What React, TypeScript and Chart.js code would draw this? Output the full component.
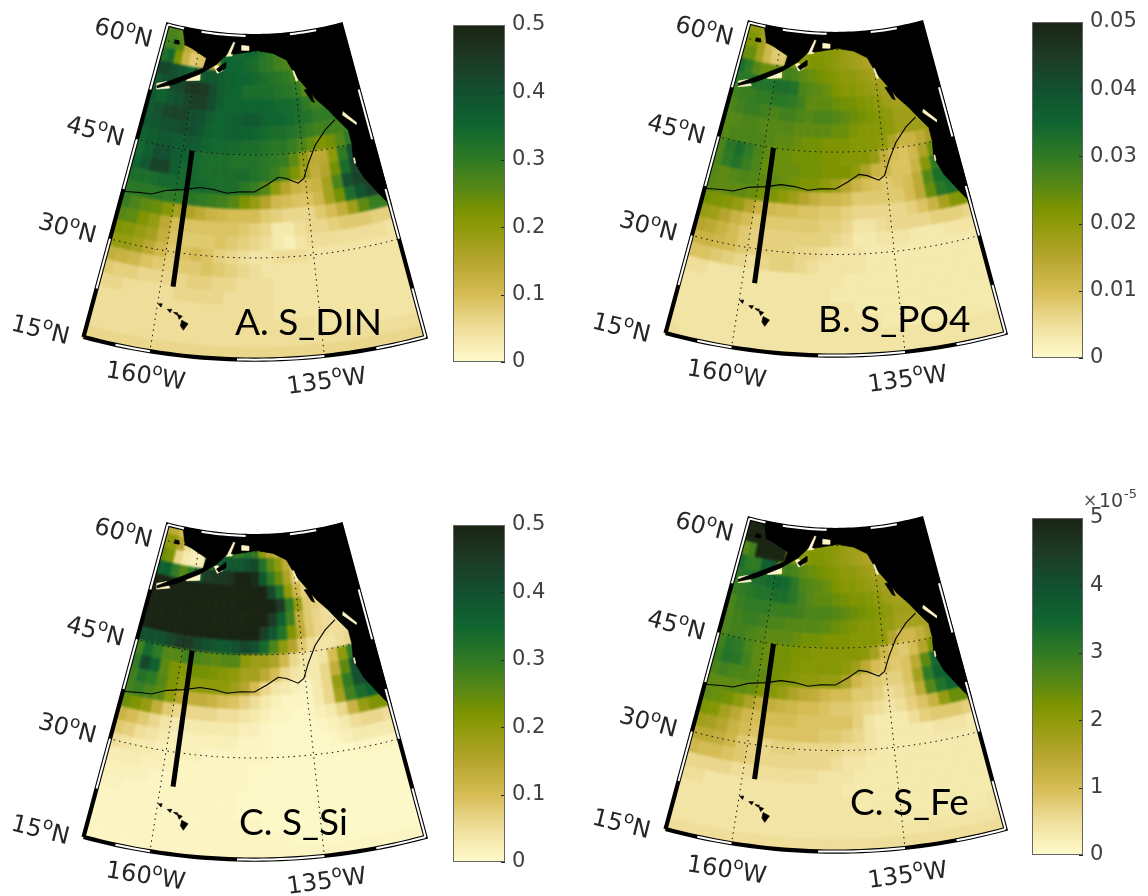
import React, { useEffect, useRef } from "react";
import { Chart, registerables } from "chart.js";

Chart.register(...registerables);

// Grid: cell centres in degrees. Rows run south to north.
const LATS = [16, 18, 20, 22, 24, 26, 28, 30, 32, 34, 36, 38, 40, 42, 44, 46, 48, 50, 52, 54, 56, 58, 60, 62];
const LONS = [-169, -167, -165, -163, -161, -159, -157, -155, -153, -151, -149, -147, -145, -143, -141, -139, -137, -135, -133, -131, -129, -127, -125, -123, -121];

// Values in units of 1/50 of each colour bar's range
const S_DIN = [
  [6, 6, 6, 6, 6, 6, 6, 6, 6, 6, 6, 6, 6, 6, 6, 6, 6, 6, 6, 6, 6, 6, 6, 6, 6],
  [5, 5, 5, 5, 5, 5, 5, 5, 5, 5, 5, 5, 5, 5, 5, 5, 5, 5, 5, 5, 5, 5, 5, 5, 5],
  [5, 5, 5, 5, 5, 5, 5, 5, 5, 5, 5, 5, 5, 5, 5, 5, 5, 4, 4, 4, 4, 4, 4, 4, 4],
  [5, 5, 5, 5, 5, 5, 5, 5, 5, 5, 5, 5, 5, 5, 4, 4, 4, 4, 4, 4, 4, 4, 4, 4, 4],
  [6, 6, 5, 5, 5, 5, 6, 6, 6, 6, 5, 5, 5, 5, 4, 4, 4, 4, 4, 4, 4, 4, 4, 4, 4],
  [8, 7, 7, 6, 6, 6, 6, 7, 7, 6, 6, 5, 5, 5, 4, 4, 4, 4, 4, 4, 4, 4, 4, 4, 4],
  [13, 12, 11, 9, 8, 7, 8, 8, 9, 8, 7, 6, 5, 4, 4, 4, 4, 4, 4, 4, 4, 4, 4, 4, 4],
  [19, 19, 17, 14, 11, 8, 9, 10, 9, 7, 6, 5, 4, 4, 5, 5, 5, 4, 4, 4, 4, 4, 4, 4, 4],
  [22, 21, 19, 17, 13, 9, 8, 8, 8, 9, 8, 7, 6, 5, 3, 2, 4, 5, 5, 5, 5, 5, 5, 5, 4],
  [26, 25, 22, 19, 14, 10, 9, 9, 9, 9, 9, 8, 7, 6, 3, 3, 5, 6, 6, 7, 8, 8, 8, 7, 7],
  [29, 27, 25, 24, 21, 17, 16, 14, 12, 11, 10, 10, 10, 8, 7, 6, 6, 6, 8, 10, 13, 18, 25, 29, 29],
  [31, 31, 31, 31, 30, 30, 31, 30, 29, 28, 26, 22, 19, 15, 11, 10, 9, 9, 11, 17, 23, 33, 39, 43, 43],
  [33, 33, 33, 34, 34, 34, 34, 34, 33, 33, 33, 31, 29, 26, 20, 15, 12, 11, 12, 17, 27, 40, 43, 45, 45],
  [35, 38, 43, 43, 37, 34, 34, 33, 33, 33, 33, 33, 32, 31, 29, 26, 22, 17, 13, 15, 23, 33, 42, 45, 45],
  [34, 37, 40, 40, 37, 36, 34, 33, 33, 33, 32, 32, 32, 31, 30, 29, 25, 19, 14, 14, 20, 30, 40, 45, 45],
  [36, 37, 38, 38, 37, 38, 37, 35, 34, 34, 34, 33, 33, 32, 31, 31, 29, 27, 24, 22, 23, 26, 30, 30, 30],
  [38, 39, 40, 40, 41, 41, 39, 36, 35, 36, 36, 36, 35, 34, 33, 33, 32, 31, 29, 28, 28, 28, 28, 28, 28],
  [38, 40, 42, 43, 43, 41, 40, 37, 35, 36, 37, 38, 38, 36, 35, 35, 34, 33, 32, 30, 30, 30, 30, 30, 30],
  [38, 36, 38, 40, 42, 44, 44, 41, 37, 35, 35, 35, 35, 35, 35, 34, 34, 33, 30, 28, 28, 28, 28, 28, 28],
  [38, 40, 42, 42, 45, 46, 45, 41, 37, 36, 35, 33, 33, 33, 33, 32, 31, 30, 26, 24, 25, 25, 25, 25, 25],
  [42, 42, 40, 38, 35, 36, 38, 38, 37, 36, 35, 35, 34, 33, 32, 31, 30, 28, 26, 25, 25, 25, 25, 25, 25],
  [32, 34, 22, 12, 8, 9, 12, 14, 35, 35, 35, 34, 33, 31, 30, 28, 27, 24, 24, 24, 24, 24, 24, 24, 24],
  [28, 28, 26, 14, 11, 11, 14, 14, 34, 34, 34, 35, 34, 32, 30, 28, 28, 28, 28, 28, 28, 28, 28, 28, 28],
  [27, 27, 25, 25, 25, 25, 25, 25, 25, 25, 25, 25, 25, 25, 25, 25, 25, 25, 25, 25, 25, 25, 25, 25, 25],
];

const S_PO4 = [
  [5, 4, 4, 4, 4, 4, 4, 4, 4, 4, 4, 4, 4, 4, 4, 4, 4, 4, 4, 4, 4, 4, 4, 4, 4],
  [4, 4, 4, 4, 4, 4, 4, 4, 4, 4, 4, 4, 4, 4, 4, 4, 4, 4, 4, 4, 4, 4, 4, 4, 4],
  [4, 4, 4, 4, 4, 4, 4, 4, 4, 4, 4, 4, 4, 4, 4, 4, 3, 3, 3, 3, 3, 3, 3, 3, 3],
  [4, 4, 4, 4, 4, 4, 4, 4, 4, 4, 4, 4, 4, 4, 3, 3, 3, 3, 3, 3, 3, 3, 3, 3, 3],
  [4, 4, 4, 4, 4, 4, 4, 4, 4, 4, 4, 4, 3, 3, 3, 3, 3, 3, 3, 3, 3, 3, 3, 3, 3],
  [5, 5, 4, 4, 4, 4, 4, 4, 4, 4, 4, 4, 4, 3, 3, 3, 3, 3, 3, 3, 3, 3, 3, 3, 3],
  [9, 9, 8, 7, 6, 5, 6, 7, 7, 6, 5, 4, 4, 4, 4, 3, 3, 3, 3, 3, 3, 3, 3, 3, 3],
  [12, 12, 11, 10, 8, 7, 7, 7, 7, 6, 6, 5, 4, 4, 4, 3, 3, 3, 3, 3, 3, 3, 3, 3, 3],
  [15, 14, 12, 10, 8, 7, 7, 7, 7, 7, 7, 7, 6, 5, 3, 3, 4, 4, 4, 3, 3, 3, 4, 4, 4],
  [19, 18, 15, 12, 10, 8, 8, 8, 8, 8, 8, 7, 7, 6, 4, 4, 5, 6, 6, 6, 6, 7, 7, 7, 6],
  [23, 22, 21, 19, 15, 12, 11, 10, 10, 9, 9, 8, 8, 7, 6, 6, 6, 6, 6, 7, 9, 12, 17, 21, 22],
  [26, 25, 25, 25, 24, 23, 22, 20, 18, 15, 13, 11, 11, 10, 8, 8, 8, 8, 8, 10, 14, 24, 31, 33, 33],
  [26, 25, 26, 27, 26, 25, 25, 24, 23, 22, 22, 20, 18, 15, 12, 10, 9, 8, 9, 10, 14, 26, 33, 35, 35],
  [27, 30, 32, 29, 27, 24, 24, 24, 24, 23, 23, 22, 22, 22, 20, 16, 12, 11, 9, 9, 12, 21, 30, 35, 35],
  [27, 31, 33, 30, 27, 25, 24, 24, 23, 23, 23, 22, 22, 21, 21, 21, 19, 13, 10, 9, 11, 16, 24, 35, 35],
  [26, 27, 27, 27, 27, 26, 25, 25, 24, 23, 23, 22, 22, 22, 21, 21, 21, 20, 16, 12, 12, 14, 17, 18, 18],
  [26, 26, 27, 27, 26, 26, 26, 26, 25, 25, 25, 25, 24, 24, 22, 21, 21, 21, 20, 18, 18, 18, 18, 18, 18],
  [27, 28, 29, 29, 28, 27, 28, 28, 27, 26, 27, 27, 26, 25, 24, 23, 22, 21, 20, 18, 18, 18, 18, 18, 18],
  [28, 29, 29, 30, 30, 31, 31, 30, 28, 25, 25, 25, 24, 23, 23, 22, 21, 20, 18, 17, 17, 17, 17, 17, 17],
  [31, 31, 32, 32, 32, 33, 33, 32, 27, 26, 25, 24, 22, 21, 21, 20, 19, 18, 17, 16, 16, 16, 16, 16, 16],
  [33, 30, 26, 24, 24, 26, 28, 27, 25, 24, 23, 22, 21, 20, 20, 19, 18, 17, 15, 15, 15, 15, 15, 15, 15],
  [24, 24, 17, 11, 8, 8, 20, 20, 20, 22, 22, 21, 20, 19, 18, 17, 16, 15, 15, 15, 15, 15, 15, 15, 15],
  [22, 22, 17, 11, 8, 8, 20, 20, 20, 21, 21, 21, 20, 19, 18, 18, 18, 18, 18, 18, 18, 18, 18, 18, 18],
  [20, 20, 18, 18, 18, 18, 18, 18, 18, 18, 18, 18, 18, 18, 18, 18, 18, 18, 18, 18, 18, 18, 18, 18, 18],
];

const S_SI = [
  [1, 1, 1, 1, 1, 1, 1, 1, 1, 1, 1, 1, 1, 1, 1, 1, 1, 1, 1, 1, 1, 1, 1, 1, 1],
  [1, 1, 1, 1, 1, 1, 1, 1, 1, 1, 1, 1, 1, 1, 1, 0.5, 0.5, 0.5, 0.5, 0.5, 0.5, 0.5, 0.5, 0.5, 0.5],
  [1, 1, 1, 1, 1, 1, 1, 1, 1, 1, 1, 1, 1, 0.5, 0.5, 0.5, 0.5, 0.5, 0.5, 0.5, 0.5, 0.5, 0.5, 0.5, 0.5],
  [1, 1, 1, 1, 1, 1, 1, 1, 1, 1, 1, 0.5, 0.5, 0.5, 0.5, 0.5, 0.5, 0.5, 0.5, 0.5, 0.5, 0.5, 0.5, 0.5, 0.5],
  [1.5, 1.5, 1, 1, 1, 1, 1, 1, 1, 1, 1, 0.5, 0.5, 0.5, 0.5, 0.5, 0.5, 0.5, 0.5, 0.5, 0.5, 0.5, 0.5, 0.5, 0.5],
  [2, 2, 2, 1.5, 1, 1, 1, 1, 1, 1, 1, 1, 0.5, 0.5, 0.5, 0.5, 0.5, 0.5, 0.5, 0.5, 0.5, 0.5, 0.5, 0.5, 0.5],
  [2.5, 2.5, 2.5, 2, 2, 1.5, 1, 1, 1, 1, 1, 1, 0.5, 0.5, 0.5, 0.5, 0.5, 0.5, 0.5, 0.5, 0.5, 0.5, 0.5, 0.5, 0.5],
  [5, 4, 3, 3, 2, 2, 2, 2, 1, 1, 1, 1, 1, 1, 0.5, 0.5, 0.5, 0.5, 0.5, 0.5, 0.5, 1, 1, 1, 1],
  [8, 7, 5, 4, 3, 2, 2, 2, 2, 2, 2, 1, 1, 1, 0.5, 0.5, 0.5, 0.5, 0.5, 1, 2, 3, 3, 3, 3],
  [12, 10, 8, 6, 4, 3, 3, 3, 3, 3, 3, 2, 2, 1, 0.5, 0.5, 0.5, 0.5, 1, 2, 3, 5, 6, 6, 5],
  [24, 22, 19, 13, 8, 6, 6, 6, 6, 5, 5, 4, 3, 2, 1, 1, 0.5, 1, 2, 3, 6, 12, 19, 22, 22],
  [28, 29, 27, 25, 20, 15, 13, 13, 12, 10, 9, 7, 5, 3, 2, 1, 1, 1, 3, 6, 17, 28, 33, 36, 36],
  [28, 32, 30, 26, 22, 20, 20, 20, 20, 20, 18, 15, 10, 6, 4, 3, 2, 1, 3, 6, 19, 30, 40, 42, 42],
  [30, 42, 36, 25, 22, 21, 23, 23, 22, 21, 20, 17, 17, 14, 10, 6, 4, 3, 3, 6, 13, 25, 40, 42, 42],
  [28, 34, 30, 26, 26, 28, 27, 26, 25, 26, 26, 20, 18, 18, 16, 11, 6, 4, 3, 4, 10, 20, 30, 30, 30],
  [40, 40, 40, 42, 45, 45, 42, 40, 38, 38, 40, 42, 40, 34, 27, 20, 15, 8, 5, 4, 4, 5, 6, 6, 6],
  [50, 50, 50, 50, 50, 50, 50, 50, 50, 50, 50, 50, 50, 44, 38, 32, 22, 14, 8, 6, 5, 5, 5, 5, 5],
  [50, 50, 50, 50, 50, 50, 50, 50, 50, 50, 50, 50, 50, 50, 45, 36, 28, 13, 8, 6, 5, 5, 5, 5, 5],
  [50, 50, 50, 50, 50, 50, 50, 50, 50, 50, 50, 50, 50, 50, 50, 45, 30, 19, 8, 7, 6, 6, 6, 6, 6],
  [50, 50, 50, 50, 50, 50, 50, 50, 50, 50, 50, 50, 50, 50, 42, 32, 20, 11, 7, 6, 6, 6, 6, 6, 6],
  [36, 36, 30, 26, 30, 38, 44, 46, 46, 47, 50, 50, 48, 38, 30, 24, 16, 8, 6, 6, 6, 6, 6, 6, 6],
  [24, 22, 6, 3, 2, 2, 30, 34, 38, 38, 38, 40, 42, 32, 25, 20, 14, 8, 6, 6, 6, 6, 6, 6, 6],
  [20, 20, 15, 5, 3, 3, 28, 30, 30, 30, 30, 32, 30, 20, 15, 12, 10, 8, 8, 8, 8, 8, 8, 8, 8],
  [14, 14, 10, 10, 10, 10, 10, 10, 10, 10, 10, 10, 10, 10, 10, 10, 10, 10, 10, 10, 10, 10, 10, 10, 10],
];

const S_FE = [
  [5, 5, 5, 5, 5, 5, 5, 5, 5, 5, 5, 5, 5, 5, 5, 5, 5, 5, 5, 5, 5, 5, 5, 5, 5],
  [4, 4, 4, 4, 4, 4, 4, 4, 4, 4, 4, 4, 4, 4, 4, 4, 4, 4, 4, 4, 4, 4, 4, 4, 4],
  [4, 4, 4, 4, 4, 4, 4, 4, 4, 4, 4, 4, 4, 4, 4, 4, 4, 3, 3, 3, 3, 3, 3, 3, 4],
  [4, 4, 4, 4, 4, 4, 4, 4, 4, 4, 4, 4, 4, 4, 3, 3, 3, 3, 3, 3, 3, 3, 3, 3, 3],
  [5, 5, 4, 4, 4, 4, 4, 4, 4, 4, 4, 4, 4, 3, 3, 3, 3, 3, 3, 3, 3, 3, 3, 3, 3],
  [6, 6, 6, 6, 5, 5, 5, 5, 5, 5, 5, 4, 4, 4, 3, 3, 3, 3, 3, 3, 3, 3, 3, 3, 3],
  [11, 10, 10, 9, 8, 7, 6, 6, 6, 6, 6, 6, 5, 4, 4, 3, 3, 3, 3, 3, 3, 3, 3, 3, 3],
  [14, 14, 13, 11, 8, 7, 6, 7, 7, 6, 6, 6, 6, 5, 5, 4, 3, 3, 3, 3, 3, 3, 3, 3, 3],
  [18, 17, 15, 12, 10, 9, 9, 9, 9, 9, 9, 8, 8, 7, 6, 4, 3, 3, 3, 3, 3, 4, 4, 4, 3],
  [22, 21, 17, 14, 11, 10, 10, 10, 10, 9, 9, 9, 9, 9, 7, 4, 3, 3, 3, 5, 7, 8, 8, 8, 7],
  [25, 24, 23, 20, 16, 13, 13, 12, 11, 10, 10, 9, 8, 8, 7, 6, 5, 4, 5, 7, 9, 12, 19, 24, 24],
  [25, 25, 25, 25, 24, 22, 21, 19, 16, 14, 13, 11, 10, 10, 8, 8, 7, 5, 6, 8, 14, 26, 32, 35, 35],
  [27, 28, 27, 27, 26, 25, 23, 22, 21, 20, 20, 19, 19, 16, 11, 9, 8, 7, 7, 9, 17, 30, 36, 38, 38],
  [29, 32, 31, 28, 25, 24, 23, 23, 22, 21, 21, 21, 21, 20, 18, 14, 10, 9, 8, 9, 14, 25, 34, 38, 38],
  [28, 31, 30, 27, 25, 24, 23, 23, 22, 22, 21, 21, 21, 21, 21, 20, 17, 11, 9, 8, 10, 15, 22, 30, 30],
  [27, 28, 28, 27, 26, 25, 25, 25, 24, 23, 23, 22, 22, 22, 21, 21, 21, 20, 15, 11, 11, 13, 16, 18, 18],
  [27, 28, 29, 29, 28, 27, 27, 26, 26, 26, 26, 25, 24, 23, 22, 21, 21, 20, 19, 17, 17, 17, 17, 17, 17],
  [27, 29, 30, 30, 30, 29, 29, 29, 28, 27, 27, 27, 26, 25, 24, 23, 22, 21, 20, 18, 18, 18, 18, 18, 18],
  [29, 30, 31, 32, 32, 33, 33, 31, 28, 26, 25, 25, 24, 23, 22, 22, 21, 20, 18, 17, 17, 17, 17, 17, 17],
  [31, 32, 33, 33, 34, 35, 34, 31, 27, 26, 25, 24, 22, 21, 21, 20, 19, 18, 17, 16, 16, 16, 16, 16, 16],
  [33, 30, 30, 36, 38, 26, 28, 27, 25, 24, 23, 22, 21, 20, 20, 19, 18, 17, 15, 15, 15, 15, 15, 15, 15],
  [26, 28, 50, 50, 50, 50, 20, 20, 20, 22, 22, 21, 20, 19, 18, 17, 16, 15, 15, 15, 15, 15, 15, 15, 15],
  [50, 50, 50, 50, 50, 50, 20, 20, 20, 21, 21, 21, 20, 19, 18, 18, 18, 18, 18, 18, 18, 18, 18, 18, 18],
  [50, 50, 50, 50, 50, 50, 50, 50, 50, 50, 50, 50, 50, 50, 50, 50, 50, 50, 50, 50, 50, 50, 50, 50, 50],
];

// Colour map: [fraction of range, colour]
const COLOR_STOPS: [number, number[]][] = [
  [0, [255, 251, 205]], [0.1, [239, 222, 154]], [0.2, [214, 188, 84]], [0.3, [181, 165, 45]],
  [0.4, [142, 154, 10]], [0.45, [122, 147, 0]], [0.5, [94, 138, 18]], [0.6, [47, 122, 36]],
  [0.7, [15, 101, 48]], [0.8, [18, 80, 48]], [0.9, [29, 58, 37]], [1, [26, 36, 19]],
];

// Geography, [lon, lat]
const MAINLAND = [
  [-165.4, 62.45], [-163.8, 60], [-161.9, 59.7], [-157.6, 58.6], [-158.1, 57.1], [-164.9, 54.7], [-168.4, 53.3],
  [-168.3, 53.0], [-164.4, 54.1], [-158.7, 56.2], [-154.8, 57.9], [-152.4, 59.4], [-150.9, 61.4], [-150.2, 61.3], [-151.2, 59.6], [-150.2, 59.6],
  [-144.4, 60.2], [-140, 59.7], [-136.6, 58.6], [-134.8, 56.3], [-132.4, 54.2], [-130.4, 52.3], [-128.2, 50.6],
  [-126.7, 49.1], [-124.7, 47.1], [-124.6, 45.1], [-125, 42.7], [-123.8, 40], [-122, 37.5], [-120.5, 35.4],
  [-120, 34.8], [-120, 62.45], [-125, 62.45], [-130, 62.45], [-135, 62.45], [-140, 62.45], [-145, 62.45],
  [-150, 62.45], [-155, 62.45], [-160, 62.45], [-165.4, 62.45],
];
const ISLANDS = [
  [[-156, 20.3], [-155, 19.9], [-155.6, 18.9], [-156.1, 19.5]],
  [[-156.8, 21.1], [-156, 20.9], [-156.4, 20.4]],
  [[-157.4, 21.3], [-156.7, 21.3], [-156.9, 21.0]],
  [[-158.4, 21.6], [-157.7, 21.7], [-157.9, 21.2]],
  [[-159.9, 22.2], [-159.3, 22.3], [-159.4, 21.8]],
  [[-154.7, 57.2], [-152.5, 58.3], [-152.4, 57.5], [-154, 56.8]],
  [[-133, 54], [-131.7, 54], [-131, 52], [-131.6, 52.2]],
  [[-166.8, 60.4], [-165.6, 60.4], [-165.5, 59.9], [-166.8, 59.9]],
];
// Pale nearshore cells lying under the land outline
const COAST_UNDER = [
  [[-168.6, 53.6], [-166.4, 54.2], [-165.3, 53.4], [-168.3, 52.8]],
  [[-162, 55.4], [-158.7, 56.5], [-158.5, 55.3], [-161.7, 54.9]],
  [[-152.6, 59.2], [-150.9, 61.5], [-150.1, 61.3], [-151, 59.3]],
  [[-155.4, 57.6], [-154.5, 57.7], [-153, 57.1], [-154.4, 56.6]],
];
// Pale slivers that show on top of it
const COAST_OVER = [
  [[-148.5, 60.9], [-146.5, 60.8], [-146.5, 60.2], [-148.5, 60.2]],
  [[-135.3, 57], [-135, 56.9], [-134.3, 55.5], [-134.7, 55.4]],
  [[-125, 49.9], [-122.7, 48], [-122.8, 47.7], [-125.3, 49.5]],
  [[-124.9, 43], [-124.7, 43], [-124.7, 42.2], [-124.9, 42.2]],
];
const CURRENT_LINE = [
  [-170, 37.1], [-166.55, 37.6], [-164.4, 37.75], [-161.7, 38.7], [-158.6, 39.2], [-155.5, 39.8], [-152.9, 39.7],
  [-150.3, 39.3], [-147.8, 39.6], [-145, 39.6], [-142.6, 40.6], [-140.3, 41.65], [-138.7, 41.4], [-136.5, 40.6],
  [-135.3, 41.2], [-134.1, 43.3], [-132.2, 45.8], [-129.6, 47.8], [-127.1, 49],
];
const TRANSECT = [[-158, 45], [-158, 25]];
const PARALLELS = [30, 45, 60];
const MERIDIANS = [-160, -135];

// Frame bands
const LAT_BREAKS = [15.2, 22.5, 30, 37.5, 45, 52.5, 62.3];
const LON_BREAKS = [-169.7, -165, -160, -147.5, -135, -127.5, -120.3];

const COLORBAR_TICKS_A = [0, 0.1, 0.2, 0.3, 0.4, 0.5];
const COLORBAR_TICKS_B = [0, 0.01, 0.02, 0.03, 0.04, 0.05];
const COLORBAR_TICKS_D = [0, 1, 2, 3, 4, 5];

const GEO_LABELS = [
  { num: "60", dir: "N", x: 93, y: 33, rot: 14 },
  { num: "45", dir: "N", x: 65, y: 131, rot: 15 },
  { num: "30", dir: "N", x: 37, y: 228, rot: 15 },
  { num: "15", dir: "N", x: 10, y: 330, rot: 14 },
  { num: "160", dir: "W", x: 105, y: 377, rot: 9 },
  { num: "135", dir: "W", x: 288, y: 394, rot: -8 },
];

const PANELS = [
  { title: "A. S_DIN", grid: S_DIN, left: 0, top: 0, cx: 254.5, y0: 24, s: 1, tx: 235, ty: 335, cb: { x: 453, y: 25, w: 52, h: 337, ticks: COLORBAR_TICKS_A, digits: 1 } },
  { title: "B. S_PO4", grid: S_PO4, left: 580, top: 0, cx: 835.5, y0: 22, s: 0.994, tx: 818, ty: 332, cb: { x: 1032, y: 22, w: 51, h: 336, ticks: COLORBAR_TICKS_B, digits: 2 } },
  { title: "C. S_Si", grid: S_SI, left: 0, top: 500, cx: 254.5, y0: 524, s: 1, tx: 239, ty: 835, cb: { x: 453, y: 525, w: 52, h: 337, ticks: COLORBAR_TICKS_A, digits: 1 } },
  { title: "C. S_Fe", grid: S_FE, left: 580, top: 490, cx: 835.5, y0: 518, s: 0.994, tx: 850, ty: 815, cb: { x: 1032, y: 518, w: 51, h: 337, ticks: COLORBAR_TICKS_D, digits: 0, exponent: true } },
];

const MAP_W = 450;
const MAP_H = 406;
const TEXT_COLOR = "#262626";
const FRINGE_COLOR = "#fdf6c4";

function colorAt(frac: number) {
  const f = Math.min(1, Math.max(0, frac));
  for (let i = 1; i < COLOR_STOPS.length; i++) {
    const [b, cb] = COLOR_STOPS[i];
    const [a, ca] = COLOR_STOPS[i - 1];
    if (f <= b) {
      const t = (f - a) / (b - a);
      const c = ca.map((v, k) => Math.round(v + (cb[k] - v) * t));
      return `rgb(${c[0]},${c[1]},${c[2]})`;
    }
  }
  return "rgb(26,36,19)";
}

const projector = (panel: any) => ([lon, lat]: number[]) => {
  const r = 657 - 6.87 * (lat - 15);
  const t = (0.612 * (lon + 145) * Math.PI) / 180;
  const xA = r * Math.sin(t);
  const yA = -296 + r * Math.cos(t);
  return { x: panel.cx + panel.s * xA - panel.left, y: panel.y0 + panel.s * (yA - 24) - panel.top };
};

const sampleLat = (lat: number, a: number, b: number) => {
  const pts: number[][] = [];
  const n = Math.max(2, Math.ceil(Math.abs(b - a) / 1.25));
  for (let i = 0; i <= n; i++) pts.push([a + ((b - a) * i) / n, lat]);
  return pts;
};

function shapeOf(project: any, pts: number[][], color: string, order: number) {
  return {
    type: "line", data: pts.map(project), order, fill: "shape", backgroundColor: color,
    borderColor: color, borderWidth: 0.7, pointRadius: 0, tension: 0,
  };
}

function buildCellDatasets(panel: any) {
  const project = projector(panel);
  const ds: any[] = [];
  LATS.forEach((lat, j) => {
    LONS.forEach((lon, i) => {
      const v = panel.grid[j][i];
      // outermost cells run past the frame; the clip path trims them
      const s = j === 0 ? lat - 3 : lat - 1;
      const n = j === LATS.length - 1 ? lat + 3 : lat + 1;
      const w = i === 0 ? lon - 3 : lon - 1;
      const e = i === LONS.length - 1 ? lon + 3 : lon + 1;
      ds.push(shapeOf(project, [[w, s], [e, s], [e, n], [w, n], [w, s]], colorAt(v / 50), 10));
    });
  });
  return ds;
}

function buildOverlayDatasets(panel: any) {
  const project = projector(panel);
  const stroke = (pts: number[][], color: string, width: number, order: number, dash: number[] = []) => ({
    type: "line", data: pts.map(project), order, fill: false, borderColor: color, borderWidth: width,
    borderDash: dash, pointRadius: 0, tension: 0,
  });
  const ds: any[] = [];
  PARALLELS.forEach((lat) => ds.push(stroke(sampleLat(lat, -170, -120), "#111", 1, 10, [1.5, 4])));
  MERIDIANS.forEach((lon) => ds.push(stroke([[lon, 15], [lon, 62.4]], "#111", 1, 10, [1.5, 4])));
  COAST_UNDER.forEach((p) => ds.push(shapeOf(project, [...p, p[0]], FRINGE_COLOR, 9)));
  ds.push(shapeOf(project, MAINLAND, "#000", 8));
  ISLANDS.forEach((p) => ds.push(shapeOf(project, [...p, p[0]], "#000", 8)));
  COAST_OVER.forEach((p) => ds.push(shapeOf(project, [...p, p[0]], FRINGE_COLOR, 7)));
  ds.push(stroke(CURRENT_LINE, "#000", 1.1, 6));
  ds.push(stroke(TRANSECT, "#000", 5, 5));

  // Frame: a black band, whitened on alternate stretches
  const W = LON_BREAKS[0];
  const E = LON_BREAKS[LON_BREAKS.length - 1];
  const S = LAT_BREAKS[0];
  const N = LAT_BREAKS[LAT_BREAKS.length - 1];
  const outline = [...sampleLat(S, W, E), [E, N], ...sampleLat(N, E, W), [W, S]];
  ds.push(stroke(outline, "#000", 4.2, 4));
  for (let i = 0; i < LAT_BREAKS.length - 1; i++) {
    const side = i % 2 === 0 ? E : W;
    ds.push(stroke([[side, LAT_BREAKS[i]], [side, LAT_BREAKS[i + 1]]], "#fff", 2, 3));
  }
  for (let i = 0; i < LON_BREAKS.length - 1; i++) {
    const lat = i % 2 === 0 ? N : S;
    ds.push(stroke(sampleLat(lat, LON_BREAKS[i], LON_BREAKS[i + 1]), "#fff", 2, 3));
  }
  return ds;
}

function clipPathFor(panel: any) {
  const project = projector(panel);
  const outer = [...sampleLat(15, -170, -120), ...sampleLat(62.45, -120, -170)].map(project);
  return `polygon(${outer.map((p) => `${p.x.toFixed(1)}px ${p.y.toFixed(1)}px`).join(",")})`;
}

const mapTextPlugin = (panel: any) => ({
  id: "mapText",
  afterDatasetsDraw(chart: any) {
    const ctx = chart.ctx;
    GEO_LABELS.forEach((l) => {
      ctx.save();
      ctx.translate(panel.cx - 254.5 + l.x - panel.left, panel.y0 - 24 + l.y - panel.top);
      ctx.rotate((l.rot * Math.PI) / 180);
      ctx.fillStyle = TEXT_COLOR;
      ctx.textBaseline = "alphabetic";
      ctx.font = "24px 'DejaVu Sans'";
      ctx.fillText(l.num, 0, 0);
      let x = ctx.measureText(l.num).width;
      ctx.font = "17px 'DejaVu Sans'";
      ctx.fillText("o", x, -10);
      x += ctx.measureText("o").width;
      ctx.font = "24px 'DejaVu Sans'";
      ctx.fillText(l.dir, x, 0);
      ctx.restore();
    });
    ctx.save();
    ctx.fillStyle = "#000";
    ctx.font = "37px Lato";
    ctx.textBaseline = "alphabetic";
    ctx.fillText(panel.title, panel.tx - panel.left, panel.ty - panel.top);
    ctx.restore();
  },
});

const colorbarPlugin = (cb: any) => ({
  id: "cbarFrame",
  afterDatasetsDraw(chart: any) {
    const { ctx, chartArea: a, scales } = chart;
    ctx.save();
    ctx.strokeStyle = "#262626";
    ctx.lineWidth = 1;
    cb.ticks.forEach((t: number) => {
      const y = Math.round(scales.y.getPixelForValue(t)) + 0.5;
      ctx.beginPath();
      ctx.moveTo(a.right - 4, y);
      ctx.lineTo(a.right, y);
      ctx.stroke();
    });
    ctx.strokeStyle = "#666";
    ctx.strokeRect(a.left + 0.5, a.top + 0.5, a.right - a.left - 1, a.bottom - a.top - 1);
    if (cb.exponent) {
      ctx.fillStyle = "#555";
      ctx.font = "17px 'DejaVu Sans'";
      ctx.fillText("\u00d7", a.right, a.top - 12);
      ctx.font = "19px 'DejaVu Sans'";
      ctx.fillStyle = "#404040";
      ctx.fillText("10", a.right + 16, a.top - 11);
      ctx.font = "13px 'DejaVu Sans'";
      ctx.fillText("-5", a.right + 41, a.top - 20);
    }
    ctx.restore();
  },
});

const mapOptions = {
  animation: false,
  responsive: false,
  parsing: false,
  events: [],
  layout: { autoPadding: false, padding: 0 },
  scales: {
    x: { type: "linear", display: false, min: 0, max: MAP_W },
    y: { type: "linear", display: false, min: 0, max: MAP_H, reverse: true },
  },
  plugins: { legend: { display: false }, tooltip: { enabled: false } },
} as any;

function App() {
  const refs = useRef<(HTMLCanvasElement | null)[]>([]);
  useEffect(() => {
    document.body.style.margin = "0";
    const charts: any[] = [];
    PANELS.forEach((panel, idx) => {
      charts.push(
        new Chart(refs.current[idx * 3] as HTMLCanvasElement, {
          type: "line",
          data: { datasets: buildCellDatasets(panel) as any },
          options: mapOptions,
        })
      );
      charts.push(
        new Chart(refs.current[idx * 3 + 1] as HTMLCanvasElement, {
          type: "line",
          data: { datasets: buildOverlayDatasets(panel) as any },
          plugins: [mapTextPlugin(panel)],
          options: mapOptions,
        })
      );
      const cb: any = panel.cb;
      const max = cb.ticks[cb.ticks.length - 1];
      const cw = Math.min(116, 1148 - cb.x);
      charts.push(
        new Chart(refs.current[idx * 3 + 2] as HTMLCanvasElement, {
          type: "bar",
          data: {
            labels: [""],
            datasets: [
              {
                data: [[0, max]],
                barPercentage: 1,
                categoryPercentage: 1,
                borderWidth: 0,
                backgroundColor: (c: any) => {
                  const a = c.chart.chartArea;
                  if (!a) return colorAt(0.5);
                  const g = c.chart.ctx.createLinearGradient(0, a.bottom, 0, a.top);
                  COLOR_STOPS.forEach(([f]) => g.addColorStop(f, colorAt(f)));
                  return g;
                },
              },
            ],
          },
          plugins: [colorbarPlugin(cb)],
          options: {
            animation: false,
            responsive: false,
            events: [],
            layout: { autoPadding: false, padding: { top: 30, bottom: 25 } },
            scales: {
              x: { display: false },
              y: {
                position: "right",
                min: 0,
                max,
                afterBuildTicks: (s: any) => { s.ticks = cb.ticks.map((value: number) => ({ value })); },
                afterFit: (s: any) => { s.width = cw - cb.w; },
                grid: { display: false, drawTicks: false },
                border: { display: false },
                ticks: {
                  color: "#404040",
                  padding: 7,
                  font: { family: "'DejaVu Sans'", size: 21 },
                  callback: (v: number) => (v === 0 ? "0" : v.toFixed(cb.digits)),
                },
              },
            },
            plugins: { legend: { display: false }, tooltip: { enabled: false } },
          } as any,
        })
      );
    });
    return () => charts.forEach((c) => c.destroy());
  }, []);

  return (
    <div style={{ position: "relative", width: 1148, height: 896, overflow: "hidden", background: "#fff" }}>
      {PANELS.map((p, i) => {
        const cb: any = p.cb;
        const cw = Math.min(116, 1148 - cb.x);
        return (
          <React.Fragment key={p.title}>
            <div style={{ position: "absolute", left: p.left, top: p.top, width: MAP_W, height: MAP_H, clipPath: clipPathFor(p) }}>
              <canvas
                ref={(el) => { refs.current[i * 3] = el; }}
                width={MAP_W}
                height={MAP_H}
                style={{ display: "block", filter: "blur(1.3px)" }}
              />
            </div>
            <canvas
              ref={(el) => { refs.current[i * 3 + 1] = el; }}
              width={MAP_W}
              height={MAP_H}
              style={{ position: "absolute", left: p.left, top: p.top, filter: "blur(0.4px)" }}
            />
            <canvas
              ref={(el) => { refs.current[i * 3 + 2] = el; }}
              width={cw}
              height={cb.h + 55}
              style={{ position: "absolute", left: cb.x, top: cb.y - 30 }}
            />
          </React.Fragment>
        );
      })}
    </div>
  );
}

export default App;
